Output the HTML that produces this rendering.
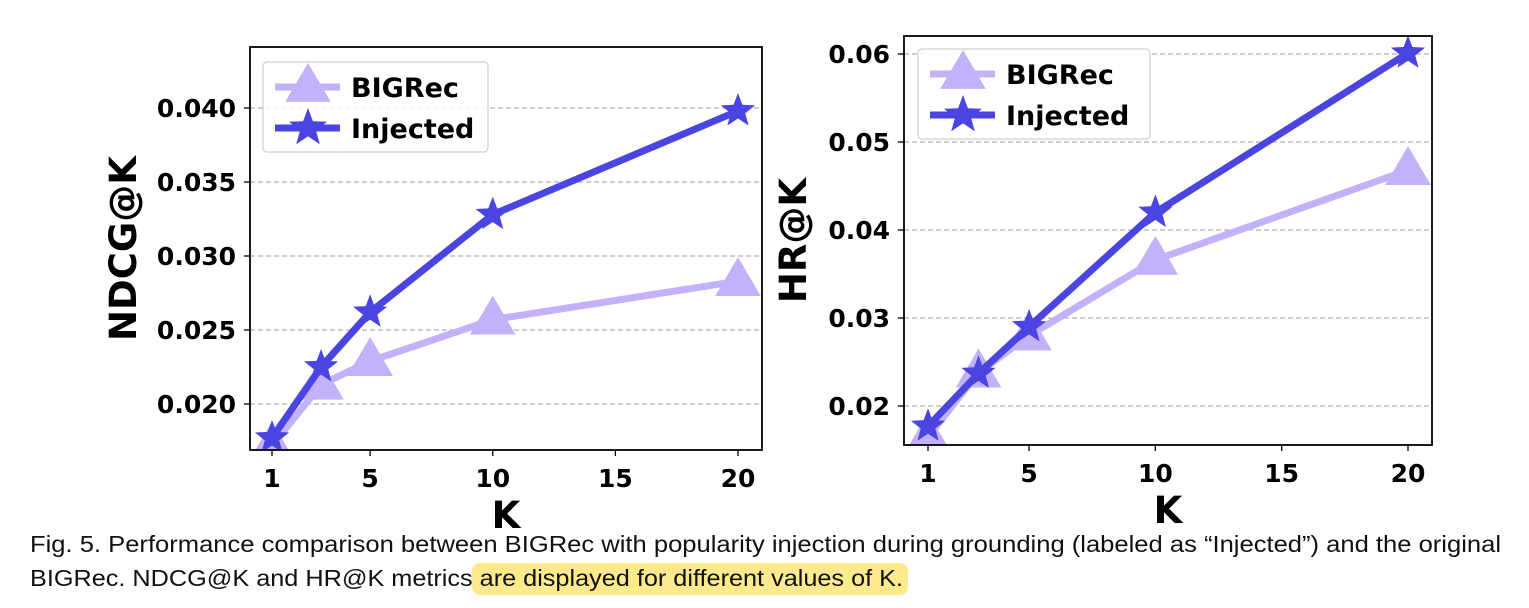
<!DOCTYPE html>
<html><head><meta charset="utf-8"><style>
body{margin:0;background:#fff;}
svg{display:block;}
.tk{font-family:"DejaVu Sans","Liberation Sans",sans-serif;font-weight:bold;font-size:25px;fill:#000;}
.ax{font-family:"DejaVu Sans","Liberation Sans",sans-serif;font-weight:bold;font-size:37px;fill:#000;}
.lg{font-family:"DejaVu Sans","Liberation Sans",sans-serif;font-weight:bold;font-size:27px;fill:#000;}
.cap{font-family:"Liberation Sans",sans-serif;font-size:23px;fill:#111;}
</style></head><body>
<svg id="fig" width="1529" height="608" xmlns="http://www.w3.org/2000/svg">
<rect x="472" y="563" width="436" height="32" rx="8" fill="#fdea8c"/>
<text class="cap" x="30" y="552" textLength="1471" lengthAdjust="spacingAndGlyphs">Fig. 5.  Performance comparison between BIGRec with popularity injection during grounding (labeled as “Injected”) and the original</text>
<text class="cap" x="30" y="586" textLength="873" lengthAdjust="spacingAndGlyphs">BIGRec. NDCG@K and HR@K metrics are displayed for different values of K.</text>
</svg>
<script>
const kValues=[1,3,5,10,20];
const xTicks=[1,5,10,15,20];
const ndcgBIGRec=[0.0172,0.0213,0.0229,0.0257,0.0283];
const ndcgInjected=[0.0177,0.0225,0.0262,0.0328,0.0398];
const ndcgTicks=[0.020,0.025,0.030,0.035,0.040];
const ndcgTickLabels=["0.020","0.025","0.030","0.035","0.040"];
const hrBIGRec=[0.0165,0.0238,0.0280,0.0366,0.0468];
const hrInjected=[0.0177,0.0237,0.0290,0.0420,0.0601];
const hrTicks=[0.02,0.03,0.04,0.05,0.06];
const hrTickLabels=["0.02","0.03","0.04","0.05","0.06"];
const NS="http://www.w3.org/2000/svg";
const svg=document.getElementById('fig');
function mk(tag,attrs,parent){const e=document.createElementNS(NS,tag);for(const k in attrs)e.setAttribute(k,attrs[k]);(parent||svg).appendChild(e);return e;}
function star(cx,cy,R){const r=R*0.42;let p=[];for(let i=0;i<10;i++){const a=-Math.PI/2+i*Math.PI/5;const rr=i%2?r:R;p.push((cx+rr*Math.cos(a)).toFixed(1)+','+(cy+rr*Math.sin(a)).toFixed(1));}return p.join(' ');}
function tri(cx,cy,R){return `${cx},${cy-R} ${cx+R*0.95},${cy+R*0.62} ${cx-R*0.95},${cy+R*0.62}`;}
function panel(o){
  const g=mk('g',{});
  
  
  const sx=v=>o.x1px+(v-1)*(o.x20px-o.x1px)/19;
  const sy=v=>o.yA+(v-o.tA)*(o.yB-o.yA)/(o.tB-o.tA);
  const defs=mk('clipPath',{id:o.name+'-clip'},g);
  mk('rect',{x:o.L,y:o.T,width:o.R-o.L,height:o.B-o.T},defs);
  o.ticks.forEach((t,i)=>{
    const y=sy(t);
    const gl=mk('line',{x1:o.L,x2:o.R,y1:y,y2:y,stroke:'#b0b0b0','stroke-width':1.2,'stroke-dasharray':'5,3'},g);
    
    
    mk('line',{x1:o.L-6,x2:o.L,y1:y,y2:y,stroke:'#000','stroke-width':1.3},g);
    const tl=mk('text',{x:o.L-14,y:y+9,'text-anchor':'end',class:'tk'},g);tl.textContent=o.labels[i];
    
    
  });
  xTicks.forEach(t=>{
    const x=sx(t);
    mk('line',{x1:x,x2:x,y1:o.B,y2:o.B+6,stroke:'#000','stroke-width':1.3},g);
    const tl=mk('text',{x:x,y:o.B+37,'text-anchor':'middle',class:'tk'},g);tl.textContent=t;
    
    
  });
  const cg=mk('g',{'clip-path':`url(#${o.name}-clip)`},g);
  const series=[{d:o.big,c:'#c3b1fa',m:'tri',n:'bigrec'},{d:o.inj,c:'#4a44e0',m:'star',n:'injected'}];
  series.forEach(s=>{
    const pts=kValues.map((k,i)=>sx(k)+','+sy(s.d[i])).join(' ');
    const pl=mk('polyline',{points:pts,fill:'none',stroke:s.c,'stroke-width':7,'stroke-linejoin':'round'},cg);
    
    
    kValues.forEach((k,i)=>{
      const p=mk('polygon',{points:s.m==='tri'?tri(sx(k),sy(s.d[i]),24):star(sx(k),sy(s.d[i]),18),fill:s.c},cg);
      
      
    });
  });
  mk('rect',{x:o.L,y:o.T,width:o.R-o.L,height:o.B-o.T,fill:'none',stroke:'#000','stroke-width':1.8},g);
  const xt=mk('text',{x:(o.L+o.R)/2,y:o.B+78,'text-anchor':'middle',class:'ax'},g);xt.textContent='K';
  
  
  const yt=mk('text',{x:0,y:0,'text-anchor':'middle',class:'ax',transform:`translate(${o.ytx},${(o.T+o.B)/2}) rotate(-90)`},g);yt.textContent=o.ytitle;
  
  
  const lg=mk('g',{},g);
  
  
  const lx=o.lgx,ly=o.lgy;
  mk('rect',{x:lx,y:ly,width:o.lgw,height:90,rx:4,fill:'#fff','fill-opacity':0.85,stroke:'#d0d0d0','stroke-width':1.2},lg);
  [[series[0],'BIGRec',ly+25],[series[1],'Injected',ly+66]].forEach(([s,lab,yy])=>{
    mk('line',{x1:lx+12,x2:lx+77,y1:yy,y2:yy,stroke:s.c,'stroke-width':7},lg);
    mk('polygon',{points:s.m==='tri'?tri(lx+45,yy,24):star(lx+45,yy,20),fill:s.c},lg);
    const t=mk('text',{x:lx+88,y:yy+10,class:'lg'},lg);t.textContent=lab;
    
    
  });
}
panel({name:'ndcg-chart',L:250,R:762,T:47,B:450,x1px:272,x20px:738,tA:0.020,yA:404,tB:0.040,yB:108,ticks:ndcgTicks,labels:ndcgTickLabels,big:ndcgBIGRec,inj:ndcgInjected,ytitle:'NDCG@K',ytx:136,lgx:263,lgy:62,lgw:225});
panel({name:'hr-chart',L:904,R:1432,T:36,B:445,x1px:928,x20px:1408,tA:0.02,yA:406,tB:0.06,yB:54,ticks:hrTicks,labels:hrTickLabels,big:hrBIGRec,inj:hrInjected,ytitle:'HR@K',ytx:806,lgx:918,lgy:49,lgw:232});
</script>
</body></html>
